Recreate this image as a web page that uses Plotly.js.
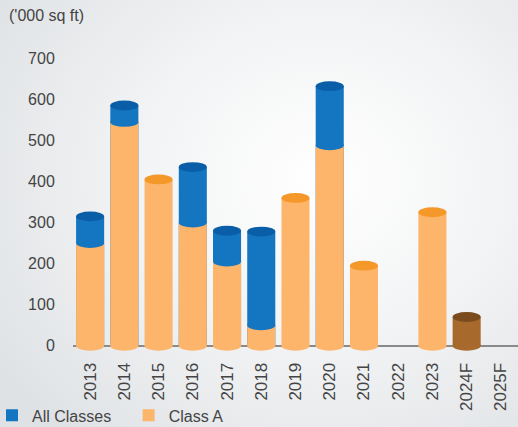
<!DOCTYPE html>
<html>
<head>
<meta charset="utf-8">
<script src="https://cdn.plot.ly/plotly-3.0.1.min.js"></script>
<style>
html,body{margin:0;padding:0;}
body{width:518px;height:427px;overflow:hidden;
background: radial-gradient(ellipse 75% 80% at 62% 42%, #ffffff 0%, #f3f4f5 45%, #dfe2e5 100%);}
#chart{width:518px;height:427px;}
</style>
</head>
<body>
<div id="chart"></div>
<script>
var categories = ['2013','2014','2015','2016','2017','2018','2019','2020','2021','2022','2023','2024F','2025F'];
var allClasses = [315, 585, null, 435, 280, 278, null, 632, null, null, null, null, null];
var classA     = [250, 545, 405, 300, 205, 50, 360, 488, 195, null, 325, 70, null];
var yTicks = [0,100,200,300,400,500,600,700];

var BLUE = '#1476c0', BLUE_TOP = '#0a5ea8';
var ORANGE = '#fdb56c', ORANGE_TOP = '#f5982a';
var BROWN = '#a8692c', BROWN_TOP = '#7a4b1c';

var isF = categories.map(function(c){return /F$/.test(c);});
var aColors = isF.map(function(f){return f ? BROWN : ORANGE;});
var aTopColors = isF.map(function(f){return f ? BROWN_TOP : ORANGE_TOP;});

var bargap = 0.18, w = 1 - bargap, eh = 12;
var shapes = [];
function ell(i, y, color){
  shapes.push({type:'circle', xref:'x', yref:'y', x0:i-w/2, x1:i+w/2, y0:y-eh, y1:y+eh,
    fillcolor:color, line:{width:0}, layer:'above'});
}
categories.forEach(function(c,i){
  if (classA[i] == null && allClasses[i] == null) return;
  ell(i, 0, aColors[i]);
  if (allClasses[i] != null) {
    ell(i, classA[i], BLUE);
    ell(i, allClasses[i], BLUE_TOP);
  } else {
    ell(i, classA[i], aTopColors[i]);
  }
});

var traces = [
  {type:'bar', name:'All Classes', x:categories, y:allClasses, legend:'legend',
   marker:{color:BLUE, line:{width:0}}},
  {type:'bar', name:'Class A', x:categories, y:classA, legend:'legend2',
   marker:{color:aColors, line:{width:0}}}
];

var legBase = {orientation:'h', xanchor:'left', yref:'container', y:0.027, yanchor:'middle',
  font:{size:16, color:'#444'}, bgcolor:'rgba(0,0,0,0)'};

var layout = {
  width:518, height:427,
  paper_bgcolor:'rgba(0,0,0,0)', plot_bgcolor:'rgba(0,0,0,0)',
  margin:{l:73, r:0, t:50, b:73},
  barmode:'overlay', bargap:bargap,
  font:{family:'Liberation Sans, Arial, sans-serif', size:16, color:'#444'},
  showlegend:true,
  legend:Object.assign({}, legBase, {x:-0.179, indentation:-8}),
  legend2:Object.assign({}, legBase, {x:0.125}),
  xaxis:{type:'category', tickangle:-90, tickfont:{size:17, color:'#444'}, showgrid:false,
    zeroline:false, showline:false, ticks:'outside', ticklen:1, tickcolor:'rgba(0,0,0,0)', fixedrange:true},
  yaxis:{range:[-20,720], tickvals:yTicks, ticktext:yTicks.map(String), showgrid:false,
    zeroline:true, zerolinecolor:'#8a8a8a', zerolinewidth:1.5, showline:false,
    ticks:'outside', ticklen:14, tickcolor:'rgba(0,0,0,0)', tickfont:{size:16, color:'#444'}},
  shapes:shapes,
  annotations:[{text:"('000 sq ft)", xref:'paper', yref:'paper', x:-0.148, xanchor:'left',
    y:1.115, yanchor:'middle', showarrow:false, font:{size:16, color:'#444'}}]
};
Plotly.newPlot('chart', traces, layout, {staticPlot:true});
</script>
</body>
</html>
